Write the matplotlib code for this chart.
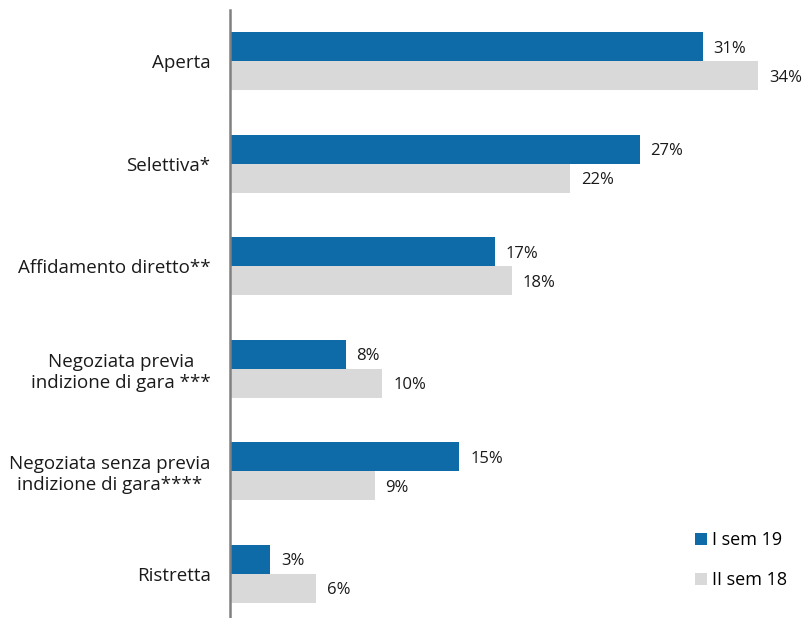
import matplotlib.pyplot as plt
import numpy as np

plt.rcParams["font.family"] = ["Open Sans", "DejaVu Sans"]

categories = [
    "Aperta",
    "Selettiva*",
    "Affidamento diretto**",
    "Negoziata previa\nindizione di gara ***",
    "Negoziata senza previa\nindizione di gara****",
    "Ristretta",
]
sem1_19 = [30.7, 26.6, 17.2, 7.5, 14.9, 2.6]
sem2_18 = [34.3, 22.1, 18.3, 9.9, 9.4, 5.6]
series_labels = ["I sem 19", "II sem 18"]

BLUE = "#0e6ba8"
GRAY = "#d9d9d9"
TEXT = "#1a1a1a"

fig = plt.figure(figsize=(8.05, 6.18), dpi=100)
ax = fig.add_axes([230 / 805, 0, 575 / 805, 608 / 618])

y = np.arange(len(categories))
h = 0.283
b1 = ax.barh(y - h / 2, sem1_19, height=h, color=BLUE, label=series_labels[0])
b2 = ax.barh(y + h / 2, sem2_18, height=h, color=GRAY, label=series_labels[1])

for bars, vals in ((b1, sem1_19), (b2, sem2_18)):
    for bar, v in zip(bars, vals):
        ax.text(v + 0.7, bar.get_y() + bar.get_height() / 2 + 0.02, f"{round(v)}%",
                va="center", ha="left", fontsize=12, color=TEXT)

ax.set_xlim(0, 575 / 15.4)
ax.set_ylim(5.43, -0.5)
ax.set_yticks(y)
ax.set_yticklabels(categories, fontsize=13.5, color=TEXT, ha="right",
                   multialignment="center")
ax.tick_params(axis="y", length=0, pad=14)
ax.set_xticks([])
for s in ("top", "right", "bottom"):
    ax.spines[s].set_visible(False)
ax.spines["left"].set_color("#808080")
ax.spines["left"].set_linewidth(1.8)

ax.legend(loc="lower right", bbox_to_anchor=(1.0, 0.018), frameon=False,
          fontsize=13, handlelength=0.65, handleheight=0.65, handletextpad=0.3,
          labelspacing=1.2, borderaxespad=0.6)

fig.savefig("out.png", dpi=100)
